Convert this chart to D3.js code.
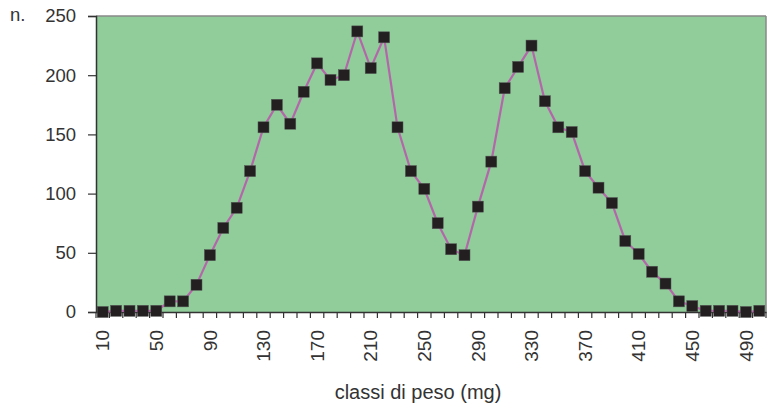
<!DOCTYPE html>
<html><head><meta charset="utf-8">
<script src="https://cdn.jsdelivr.net/npm/d3@7/dist/d3.min.js"></script>
<style>body{margin:0;background:#fff}text{font-family:"Liberation Sans",Arial,sans-serif;fill:#333}</style>
</head><body><svg id="c" width="772" height="407"></svg>
<script>
const categories = d3.range(10, 501, 10);
const counts = [0,1,1,1,1,9,9,23,48,71,88,119,156,175,159,186,210,196,200,237,206,232,156,119,104,75,53,48,89,127,189,207,225,178,156,152,119,105,92,60,49,34,24,9,5,1,1,1,0,1];
const xTickLabels = [10,50,90,130,170,210,250,290,330,370,410,450,490];
const yTicks = [0,50,100,150,200,250];

const m = {l:96, r:6, t:16, b:95};
const W = 772, H = 407;
const iw = W - m.l - m.r, ih = H - m.t - m.b;
const svg = d3.select("#c");
const g = svg.append("g").attr("transform", `translate(${m.l},${m.t})`);

const x = d3.scaleBand().domain(categories).range([0, iw]);
const y = d3.scaleLinear().domain([0, 250]).range([ih, 0]);

g.append("rect").attr("width", iw).attr("height", ih).attr("fill", "#90cd9a");
g.append("line").attr("x1",0).attr("x2",iw).attr("y1",0).attr("y2",0).attr("stroke","#888").attr("stroke-width",1.5);
g.append("line").attr("x1",iw).attr("x2",iw).attr("y1",0).attr("y2",ih).attr("stroke","#888").attr("stroke-width",1.5);

const xa = g.append("g").attr("transform", `translate(0,${ih})`)
  .call(d3.axisBottom(x).tickSize(0).tickFormat(d => xTickLabels.includes(d) ? d : ""));
xa.select(".domain").attr("stroke","#333").attr("stroke-width",1.5);
xa.selectAll("text").attr("transform","rotate(-90)").attr("text-anchor","end")
  .attr("x",-18).attr("y",0).attr("dy","0.35em").style("font-size","19px").attr("fill","#333");
const bounds = categories.map(c => x(c)).concat([iw]);
xa.selectAll(".bt").data(bounds).enter().append("line").attr("class","bt")
  .attr("x1",d=>d).attr("x2",d=>d).attr("y1",0).attr("y2",6).attr("stroke","#333").attr("stroke-width",1.2);

const ya = g.append("g").call(d3.axisLeft(y).tickValues(yTicks).tickSize(8).tickPadding(12));
ya.select(".domain").attr("stroke","#333").attr("stroke-width",1.5);
ya.selectAll(".tick line").attr("stroke","#333").attr("stroke-width",1.2);
ya.selectAll("text").style("font-size","18.5px").attr("fill","#333");

const cx = d => x(d) + x.bandwidth()/2;
const line = d3.line().x((d,i)=>cx(categories[i])).y(d=>y(d));
g.append("path").datum(counts).attr("d", line).attr("fill","none").attr("stroke","#b566ab").attr("stroke-width",2.2);

const s = 11;
g.selectAll(".pt").data(counts).enter().append("rect").attr("class","pt")
  .attr("x",(d,i)=>cx(categories[i]) - s/2).attr("y",d=>y(d)-s/2)
  .attr("width",s).attr("height",s).attr("fill","#231f20").attr("stroke","#555").attr("stroke-width",0.5);

svg.append("text").attr("x",10).attr("y",21).style("font-size","18.5px").text("n.");
svg.append("text").attr("x",418).attr("y",399).attr("text-anchor","middle").style("font-size","20px").text("classi di peso (mg)");
</script></body></html>
